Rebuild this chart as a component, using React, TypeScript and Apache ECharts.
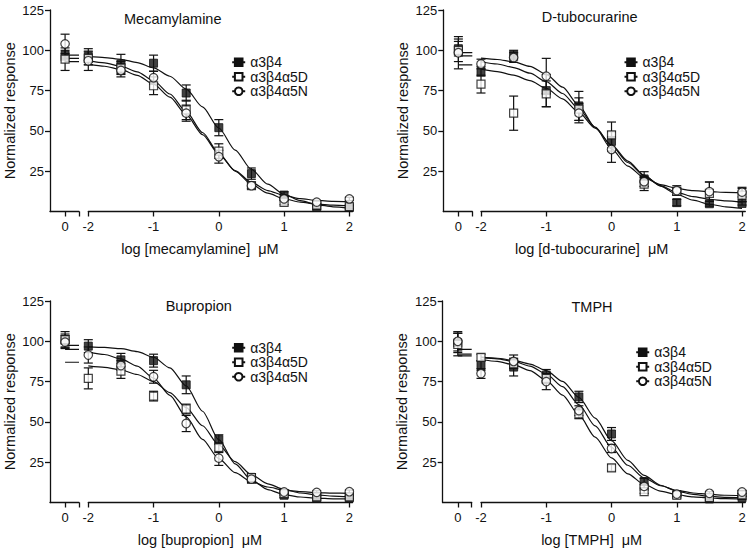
import React, { useEffect, useRef } from 'react';
import * as echarts from 'echarts';

// ---------- data ----------
const CONC = [-2, -1.5, -1, -0.5, 0, 0.5, 1, 1.5, 2];
const FIT_X = [-2, -1.75, -1.5, -1.25, -1, -0.75, -0.5, -0.25, 0, 0.25, 0.5, 0.75, 1, 1.25, 1.5, 1.75, 2];
const GROUPS = ['α3β4', 'α3β4α5D', 'α3β4α5N'];
const TITLES = ['Mecamylamine', 'D-tubocurarine', 'Bupropion', 'TMPH'];
const X_NAMES = ['log [mecamylamine]  μM', 'log [d-tubocurarine]  μM', 'log [bupropion]  μM', 'log [TMPH]  μM'];
const Y_NAME = 'Normalized response';
const Y_TICKS = [25, 50, 75, 100, 125];
const X_TICKS = [-2, -1, 0, 1, 2];
const CONTROL_TICK = [0];

// Mecamylamine
const mecaControl = [97, 94.5, 104];
const mecaControlErr = [3, 7, 6];
const mecaMean = [
  [96, 91.5, 92, 73.5, 52, 23.5, 10.2, 2.5, 2.5],
  [95, 89, 78, 63, 37.5, 16, 5.7, 4, 3],
  [93.5, 87.5, 83, 61, 34, 16, 7.8, 5.8, 7.8],
];
const mecaErr = [
  [5, 6, 5, 5, 5, 3.5, 2, 1, 1],
  [4, 4, 5.5, 6, 4.5, 2, 1.5, 1, 1],
  [6, 4, 4, 5, 4, 2, 1, 1, 1],
];
const mecaFit = [
  [96.2, 95.5, 94.4, 92.4, 89.1, 83.9, 75.9, 64.9, 51.8, 38.1, 26.1, 17.0, 10.7, 6.7, 4.3, 2.9, 2.1],
  [93.4, 92.2, 90.1, 86.6, 81.1, 72.9, 61.9, 49.0, 36.1, 25.1, 16.9, 11.4, 7.9, 5.8, 4.6, 3.9, 3.5],
  [91.4, 90.1, 88.0, 84.5, 79.0, 70.9, 60.1, 47.7, 35.6, 25.4, 18.0, 13.0, 9.9, 8.0, 6.9, 6.3, 6.0],
];
const mecaTop = [97, 95, 93];

// D-tubocurarine
const tuboControl = [101, 100, 98.5];
const tuboControlErr = [4.5, 7, 10];
const tuboMean = [
  [87, 97, 75, 65.5, 43.5, 20.2, 5.5, 4.8, 5],
  [79, 61, 73, 63.5, 47.5, 17, 12.5, 11.3, 10.2],
  [91.5, 95.5, 84, 61, 38.5, 18.5, 13, 12.3, 12],
];
const tuboErr = [
  [3, 3, 10, 9, 6, 4.5, 2, 1.5, 1],
  [5.5, 10.6, 8, 7, 8, 4, 2, 7, 4],
  [3, 3, 11, 6, 8, 3, 3, 6, 3],
];
const tuboFit = [
  [88.3, 86.8, 84.6, 81.2, 76.4, 69.9, 61.5, 51.7, 41.3, 31.3, 22.6, 15.7, 10.6, 7.0, 4.5, 2.9, 1.9],
  [92.9, 91.5, 89.3, 85.8, 80.6, 73.2, 63.6, 52.3, 40.8, 30.4, 22.1, 16.0, 11.9, 9.2, 7.6, 6.6, 5.9],
  [95.1, 94.3, 92.8, 90.0, 85.1, 77.1, 65.7, 52.1, 38.8, 28.2, 21.0, 16.7, 14.3, 12.9, 12.3, 11.9, 11.7],
];
const tuboTop = [91, 96.5, 98.5];

// Bupropion
const buprControl = [100.5, 101, 99.5];
const buprControlErr = [4, 5, 4];
const buprMean = [
  [97, 88.5, 88, 73, 39, 15, 4.5, 2.5, 3],
  [77, 81.5, 66, 58, 34, 15.5, 5.5, 3.5, 3.5],
  [91.5, 85, 78, 49, 27.5, 14.5, 6.5, 6.3, 6.7],
];
const buprErr = [
  [4, 4, 4, 5.5, 3, 3, 1.5, 1, 1],
  [6.5, 4.5, 3, 3, 3, 2, 1, 1, 1],
  [5, 3, 4, 5, 4.5, 2, 1, 1, 1],
];
const buprFit = [
  [96.6, 96.2, 95.4, 93.6, 90.1, 83.5, 72.3, 56.6, 39.0, 24.0, 13.9, 8.0, 4.9, 3.4, 2.7, 2.3, 2.2],
  [84.7, 83.8, 82.2, 79.4, 75.0, 68.2, 58.9, 47.6, 35.7, 25.3, 17.2, 11.6, 8.1, 5.9, 4.7, 4.0, 3.5],
  [93.3, 91.8, 89.1, 84.6, 77.2, 66.5, 53.1, 39.2, 27.2, 18.5, 12.9, 9.6, 7.7, 6.7, 6.1, 5.8, 5.7],
];
const buprTop = [97.5, 87, 95];

// TMPH
const tmphControl = [99, 98, 100];
const tmphControlErr = [6, 7, 6];
const tmphMean = [
  [85, 84, 79, 65.5, 42.5, 13, 4.7, 2.2, 3],
  [90, 86, 77, 55, 21.5, 6.7, 4.5, 3, 4.7],
  [80, 87.5, 75, 57, 33.5, 10, 5.2, 5.7, 6.5],
];
const tmphErr = [
  [3, 5.5, 3.5, 3.5, 4, 2, 1, 1, 1],
  [2, 3, 3, 3, 2, 1, 1, 1, 1],
  [3, 4, 5, 3, 2.5, 1.5, 1, 1, 1],
];
const tmphFit = [
  [90.2, 89.5, 88.2, 85.9, 81.8, 75.1, 65.2, 52.3, 38.4, 26.1, 16.8, 10.7, 7.1, 5.0, 3.8, 3.2, 2.9],
  [88.7, 87.5, 85.5, 81.8, 75.8, 66.6, 54.3, 40.5, 27.7, 17.8, 11.2, 7.1, 4.8, 3.5, 2.8, 2.4, 2.2],
  [90.0, 89.1, 87.5, 84.6, 79.7, 71.9, 60.8, 47.5, 34.2, 23.1, 15.3, 10.4, 7.5, 5.9, 5.0, 4.5, 4.3],
];
const tmphTop = [92, 91, 95];

const PANELS = [
  { control: mecaControl, controlErr: mecaControlErr, mean: mecaMean, err: mecaErr, fit: mecaFit, top: mecaTop },
  { control: tuboControl, controlErr: tuboControlErr, mean: tuboMean, err: tuboErr, fit: tuboFit, top: tuboTop },
  { control: buprControl, controlErr: buprControlErr, mean: buprMean, err: buprErr, fit: buprFit, top: buprTop },
  { control: tmphControl, controlErr: tmphControlErr, mean: tmphMean, err: tmphErr, fit: tmphFit, top: tmphTop },
];

// ---------- layout / style ----------
const LAYOUT = [
  { axisX: 50, mainX: 88.3, top: 10, titleX: 124, titleY: 19, legendX: 231.2, legendY: 55, shift: 41 },
  { axisX: 443.3, mainX: 481, top: 10, titleX: 541.7, titleY: 17, legendX: 623.5, legendY: 55, shift: 43 },
  { axisX: 50, mainX: 88.3, top: 301, titleX: 165.7, titleY: 306, legendX: 231.2, legendY: 340.5, shift: 41 },
  { axisX: 442.7, mainX: 481, top: 301, titleX: 571.5, titleY: 306.8, legendX: 635.2, legendY: 345, shift: 43 },
];
const PLOT_H = 201.5;
const CTRL_W = 29;
const MAIN_W = 264.3;
const INK = '#111';
const FONT = '"Liberation Sans", Arial, Helvetica, sans-serif';

const SYMBOLS = [
  { symbol: 'rect', size: 8, itemStyle: { color: INK, borderColor: INK, borderWidth: 1 } },
  { symbol: 'rect', size: 8, itemStyle: { color: '#fff', borderColor: INK, borderWidth: 1.2 } },
  { symbol: 'circle', size: 8.5, itemStyle: { color: '#fff', borderColor: INK, borderWidth: 1.2 } },
];

const errorBarRender = (params: any, api: any) => {
  const x = api.value(0);
  const y = api.value(1);
  const e = api.value(2);
  const hi = api.coord([x, y + e]);
  const lo = api.coord([x, y - e]);
  const cap = 4.5;
  const style = { stroke: INK, lineWidth: 1.2 };
  return {
    type: 'group',
    children: [
      { type: 'line', shape: { x1: hi[0], y1: hi[1], x2: lo[0], y2: lo[1] }, style },
      { type: 'line', shape: { x1: hi[0] - cap, y1: hi[1], x2: hi[0] + cap, y2: hi[1] }, style },
      { type: 'line', shape: { x1: lo[0] - cap, y1: lo[1], x2: lo[0] + cap, y2: lo[1] }, style },
    ],
  };
};

function buildOption() {
  const grid: any[] = [];
  const xAxis: any[] = [];
  const yAxis: any[] = [];
  const series: any[] = [];
  const graphic: any[] = [];
  const legend: any[] = [];
  const axisLine = { show: true, onZero: false, lineStyle: { color: INK, width: 1.3 } };
  const axisTick = { show: true, length: 5, inside: false, lineStyle: { color: INK, width: 1.3 } };
  const tickLabel = { color: INK, fontSize: 13, fontFamily: FONT };

  PANELS.forEach((p, i) => {
    const L = LAYOUT[i];
    const ci = 2 * i;
    const mi = 2 * i + 1;
    grid.push({ left: L.axisX, top: L.top, width: CTRL_W, height: PLOT_H });
    grid.push({ left: L.mainX, top: L.top, width: MAIN_W, height: PLOT_H });

    xAxis.push({
      gridIndex: ci, type: 'value', min: -0.52, max: 0.48,
      axisLine, axisTick: { ...axisTick, customValues: [0, 0.48] },
      axisLabel: { ...tickLabel, margin: 8, customValues: CONTROL_TICK },
      splitLine: { show: false },
    });
    xAxis.push({
      gridIndex: mi, type: 'value', min: -2, max: 2.05,
      axisLine, axisTick: { ...axisTick, customValues: X_TICKS },
      axisLabel: { ...tickLabel, margin: 8, customValues: X_TICKS },
      splitLine: { show: false },
      name: X_NAMES[i], nameLocation: 'middle', nameGap: 30,
      nameTextStyle: { color: INK, fontSize: 14.5, fontFamily: FONT, padding: [0, L.shift, 0, 0] },
    });
    yAxis.push({
      gridIndex: ci, type: 'value', min: 0, max: 125, interval: 25,
      axisLine, axisTick: { ...axisTick, customValues: Y_TICKS },
      axisLabel: { ...tickLabel, margin: 6, customValues: Y_TICKS },
      splitLine: { show: false },
      name: Y_NAME, nameLocation: 'middle', nameGap: 33,
      nameTextStyle: { color: INK, fontSize: 14.5, fontFamily: FONT },
    });
    yAxis.push({ gridIndex: mi, type: 'value', min: 0, max: 125, show: false, splitLine: { show: false } });

    graphic.push({
      type: 'text', id: 'title' + i, x: L.titleX, y: L.titleY, silent: true,
      style: {
        text: TITLES[i], fill: INK, fontSize: 14.5, fontFamily: FONT,
        align: 'left', verticalAlign: 'middle',
      },
    });
    legend.push({
      orient: 'vertical', left: L.legendX, top: L.legendY, padding: 0,
      itemWidth: 13, itemHeight: 9.5, itemGap: 0, selectedMode: false,
      data: GROUPS,
      textStyle: { color: INK, fontSize: 14, lineHeight: 14.5, fontFamily: FONT },
    });

    GROUPS.forEach((name, g) => {
      const S = SYMBOLS[g];
      // fitted curve
      series.push({
        type: 'line', name, xAxisIndex: mi, yAxisIndex: mi,
        data: FIT_X.map((x, k) => [x, p.fit[g][k]]),
        smooth: 0.25, smoothMonotone: 'x', showSymbol: false,
        symbol: S.symbol, symbolSize: S.size, itemStyle: S.itemStyle,
        lineStyle: { color: INK, width: 1.2 }, z: 2, silent: true,
      });
      // fit top shown at the control position
      series.push({
        type: 'line', xAxisIndex: ci, yAxisIndex: ci,
        data: [[0, p.top[g]], [0.48, p.top[g]]],
        showSymbol: false, lineStyle: { color: INK, width: 1.2 }, z: 2, silent: true,
      });
      // error bars
      series.push({
        type: 'custom', xAxisIndex: mi, yAxisIndex: mi, renderItem: errorBarRender,
        encode: { x: 0, y: 1 }, data: CONC.map((x, k) => [x, p.mean[g][k], p.err[g][k]]), z: 3, silent: true,
      });
      series.push({
        type: 'custom', xAxisIndex: ci, yAxisIndex: ci, renderItem: errorBarRender,
        encode: { x: 0, y: 1 }, data: [[0, p.control[g], p.controlErr[g]]], z: 3, silent: true,
      });
      // points
      series.push({
        type: 'scatter', xAxisIndex: mi, yAxisIndex: mi,
        data: CONC.map((x, k) => [x, p.mean[g][k]]),
        symbol: S.symbol, symbolSize: S.size, itemStyle: S.itemStyle, z: 4, silent: true,
      });
      series.push({
        type: 'scatter', xAxisIndex: ci, yAxisIndex: ci,
        data: [[0, p.control[g]]],
        symbol: S.symbol, symbolSize: S.size, itemStyle: S.itemStyle, z: 4, silent: true,
      });
    });
  });

  return {
    animation: false,
    backgroundColor: '#fff',
    textStyle: { fontFamily: FONT },
    graphic, legend, grid, xAxis, yAxis, series,
  };
}

export default function App() {
  const ref = useRef<HTMLDivElement>(null);
  useEffect(() => {
    if (!ref.current) return;
    const chart = echarts.init(ref.current, null, { renderer: 'svg' });
    chart.setOption(buildOption() as any);
    return () => chart.dispose();
  }, []);
  return (
    <div
      ref={ref}
      style={{ position: 'fixed', left: 0, top: 0, width: 750, height: 552, background: '#fff' }}
    />
  );
}
